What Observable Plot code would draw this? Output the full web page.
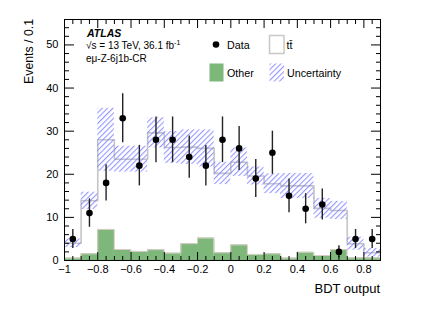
<!DOCTYPE html>
<html><head><meta charset="utf-8">
<script src="https://cdn.jsdelivr.net/npm/d3@7"></script>
<script src="https://cdn.jsdelivr.net/npm/@observablehq/plot@0.6"></script>
<style>body{margin:0;background:#fff} #chart{width:432px;height:310px}</style>
</head><body><div id="chart"></div>
<script>
const binEdges = [-1, -0.9, -0.8, -0.7, -0.6, -0.5, -0.4, -0.3, -0.2, -0.1, 0, 0.1, 0.2, 0.3, 0.4, 0.5, 0.6, 0.7, 0.8, 0.9];
const dataCounts = [5, 11, 18, 33, 22, 28, 28, 24, 22, 28, 26, 19, 25, 15, 12, 13, 2, 5, 5];
const dataErr = [2.2, 3.3, 4.2, 5.7, 4.7, 5.3, 5.3, 4.9, 4.7, 5.3, 5.1, 4.4, 5.0, 3.9, 3.5, 3.6, 1.4, 2.2, 2.2];
const otherYield = [0.55, 1.55, 7.2, 2.55, 2.1, 2.5, 1.7, 3.9, 5.2, 1.8, 3.6, 1.4, 1.55, 0.55, 1.9, 1.15, 2.55, 0.6, 0.6];
const ttbarYield = [3.45, 12.3, 20.8, 20.95, 21.4, 27.1, 24.5, 22.4, 20.8, 18.4, 19.2, 18.2, 16.25, 16.75, 15.4, 10.95, 9.05, 3.3, 1.2];
const uncertainty = [1.0, 2.0, 7.3, 3.0, 3.0, 3.5, 3.7, 4.0, 4.3, 2.6, 3.3, 2.1, 2.3, 2.9, 2.9, 2.3, 2.1, 1.5, 1.0];
const xMajorTicks = [-1, -0.8, -0.6, -0.4, -0.2, 0, 0.2, 0.4, 0.6, 0.8];
const xMinorTicks = [-0.95, -0.9, -0.85, -0.75, -0.7, -0.65, -0.55, -0.5, -0.45, -0.35, -0.3, -0.25, -0.15, -0.1, -0.05, 0.05, 0.1, 0.15, 0.25, 0.3, 0.35, 0.45, 0.5, 0.55, 0.65, 0.7, 0.75, 0.85];
const yMajorTicks = [0, 10, 20, 30, 40, 50];
const yMinorTicks = [2, 4, 6, 8, 12, 14, 16, 18, 22, 24, 26, 28, 32, 34, 36, 38, 42, 44, 46, 48, 52, 54];

const bins = dataCounts.map((d, i) => ({
  lo: binEdges[i], hi: binEdges[i + 1], mid: (binEdges[i] + binEdges[i + 1]) / 2,
  data: d, err: dataErr[i], other: otherYield[i],
  total: otherYield[i] + ttbarYield[i], unc: uncertainty[i]
}));
const last = bins[bins.length - 1];
const stepTotal = bins.map(b => ({x: b.lo, y: b.total})).concat([{x: last.hi, y: last.total}]);
const stepOther = bins.map(b => ({x: b.lo, y: b.other})).concat([{x: last.hi, y: last.other}]);

const FONT = "'Liberation Sans', Arial, Helvetica, sans-serif";
const GREEN = "#7db77a";
const fmtX = d => (d < 0 ? "\u2212" : "") + String(Math.abs(d));

const svg = Plot.plot({
  width: 432, height: 310,
  marginLeft: 64, marginRight: 52, marginTop: 19, marginBottom: 50,
  style: {fontFamily: FONT, fontSize: "11px", background: "white", color: "black"},
  x: {domain: [-1, 0.9]},
  y: {domain: [0, 55.9]},
  marks: [
    Plot.rectY(bins, {x1: "lo", x2: "hi", y1: 0, y2: "other", fill: GREEN}),
    Plot.line(stepOther, {x: "x", y: "y", curve: "step-after", stroke: "#d9cdc6", strokeWidth: 1}),
    Plot.line(stepTotal, {x: "x", y: "y", curve: "step-after", stroke: "#c6c6c6", strokeWidth: 1.6}),
    Plot.rectY(bins, {x1: "lo", x2: "hi", y1: d => d.total - d.unc, y2: d => d.total + d.unc, fill: "url(#hatch)"}),
    Plot.ruleX(bins, {x: "mid", y1: d => d.data - d.err, y2: d => d.data + d.err, stroke: "#222", strokeWidth: 1.4}),
    Plot.dot(bins, {x: "mid", y: "data", r: 3.3, fill: "black", stroke: "none"}),
    Plot.frame({stroke: "black"}),
    Plot.axisX(xMajorTicks, {anchor: "bottom", tickSize: 0, tickPadding: 5, label: null, tickFormat: fmtX}),
    Plot.axisX(xMajorTicks, {anchor: "bottom", tickSize: -8, fill: "none", label: null}),
    Plot.axisX(xMinorTicks, {anchor: "bottom", tickSize: -4, fill: "none", label: null}),
    Plot.axisX(xMajorTicks, {anchor: "top", tickSize: -8, fill: "none", label: null}),
    Plot.axisX(xMinorTicks, {anchor: "top", tickSize: -4, fill: "none", label: null}),
    Plot.axisY(yMajorTicks, {anchor: "left", tickSize: 0, tickPadding: 6, label: null}),
    Plot.axisY(yMajorTicks, {anchor: "left", tickSize: -10, fill: "none", label: null}),
    Plot.axisY(yMinorTicks, {anchor: "left", tickSize: -5, fill: "none", label: null}),
    Plot.axisY(yMajorTicks, {anchor: "right", tickSize: -10, fill: "none", label: null}),
    Plot.axisY(yMinorTicks, {anchor: "right", tickSize: -5, fill: "none", label: null})
  ]
});

const s = d3.select(svg);
const defs = s.insert("defs", ":first-child");
const pat = defs.append("pattern").attr("id", "hatch").attr("patternUnits", "userSpaceOnUse")
  .attr("width", 3.8).attr("height", 3.8).attr("patternTransform", "rotate(45)");
pat.append("line").attr("x1", 0.6).attr("y1", 0).attr("x2", 0.6).attr("y2", 3.8)
  .attr("stroke", "#7f7fff").attr("stroke-width", 0.9);

const g = s.append("g").attr("font-family", FONT).attr("fill", "black").attr("text-anchor", "start");
// axis titles
g.append("text").attr("transform", "translate(33,19) rotate(-90)").attr("text-anchor", "end")
  .attr("font-size", 12.3).text("Events / 0.1");
g.append("text").attr("x", 380).attr("y", 293).attr("text-anchor", "end")
  .attr("font-size", 13).text("BDT output");
// ATLAS label
g.append("text").attr("x", 87).attr("y", 37).attr("font-size", 10.5)
  .attr("font-weight", "bold").attr("font-style", "italic").text("ATLAS");
const t2 = g.append("text").attr("x", 86).attr("y", 49).attr("font-size", 10);
t2.append("tspan").text("√s = 13 TeV, 36.1 fb");
t2.append("tspan").attr("dy", -4).attr("font-size", 7).text("-1");
g.append("text").attr("x", 86).attr("y", 62).attr("font-size", 10).text("eμ-Z-6j1b-CR");
// legend
g.append("circle").attr("cx", 216).attr("cy", 44.5).attr("r", 3.3).attr("fill", "black");
g.append("text").attr("x", 227).attr("y", 49).attr("font-size", 10.7).text("Data");
g.append("rect").attr("x", 269.5).attr("y", 35.5).attr("width", 14.5).attr("height", 18)
  .attr("fill", "white").attr("stroke", "#c8c8c8").attr("stroke-width", 1.5);
g.append("text").attr("x", 286.5).attr("y", 49).attr("font-size", 10.7).text("tt\u0304");
g.append("rect").attr("x", 209.5).attr("y", 63.5).attr("width", 14).attr("height", 18).attr("fill", GREEN);
g.append("text").attr("x", 227).attr("y", 77).attr("font-size", 10.7).text("Other");
g.append("rect").attr("x", 269.5).attr("y", 63.5).attr("width", 14.5).attr("height", 18).attr("fill", "url(#hatch)");
g.append("text").attr("x", 287).attr("y", 76.5).attr("font-size", 10.7).text("Uncertainty");

document.getElementById("chart").appendChild(svg);
</script></body></html>
